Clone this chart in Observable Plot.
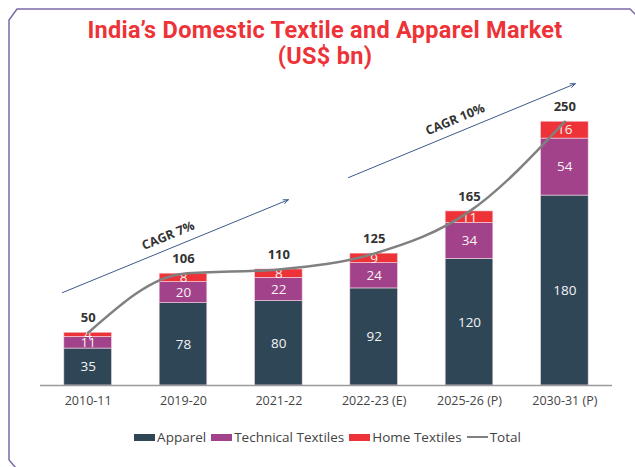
<!DOCTYPE html>
<html>
<head>
<meta charset="utf-8">
<script src="https://cdn.jsdelivr.net/npm/d3@7"></script>
<script src="https://cdn.jsdelivr.net/npm/@observablehq/plot@0.6"></script>
<style>
  html, body { margin: 0; padding: 0; background: #fff; }
  body { width: 635px; height: 467px; position: relative; overflow: hidden; font-family: "Open Sans", sans-serif; }
  #frame { position: absolute; left: 0; top: 0; }
  #title { position: absolute; left: 0; width: 650px; top: 17px; text-align: center; color: #ee3338;
           font-family: Roboto, sans-serif; font-weight: 700; font-size: 23.5px; letter-spacing: 0.3px; line-height: 26px; }
  #chart { position: absolute; left: 0; top: 66px; }
  #legend { position: absolute; left: 0; width: 655px; top: 428px; display: flex; justify-content: center;
            align-items: center; font-size: 13.5px; color: #444; gap: 5px; }
  .item { display: flex; align-items: center; }
  .sw { width: 21px; height: 7px; margin-right: 2px; }
  .ln { width: 21px; height: 2.5px; margin-right: 2px; background: #808080; }
</style>
</head>
<body>
<svg id="frame" width="635" height="467">
  <polyline points="9,460 9,20 17,9 630,9 641,20" fill="none" stroke="#7b6aa8" stroke-width="1.5"/>
  <polyline points="9,460 16,468" fill="none" stroke="#7b6aa8" stroke-width="1.5"/>
</svg>
<div id="title">India’s Domestic Textile and Apparel Market<br>(US$ bn)</div>
<div id="chart"></div>
<div id="legend"></div>
<script>
const categories = ["2010-11", "2019-20", "2021-22", "2022-23 (E)", "2025-26 (P)", "2030-31 (P)"];
const apparel = [35, 78, 80, 92, 120, 180];
const technical = [11, 20, 22, 24, 34, 54];
const home = [4, 8, 8, 9, 11, 16];
const totals = [50, 106, 110, 125, 165, 250];
const seriesNames = ["Apparel", "Technical Textiles", "Home Textiles"];
const seriesColors = ["#2f4657", "#a2428b", "#ee3338"];
const cagrLabels = ["CAGR 7%", "CAGR 10%"];
// annotation arrows in data space (x = category index, y = US$ bn)
const cagrStart = [[-0.27, 88], [2.73, 197]];
const cagrEnd = [[2.10, 176], [5.11, 286]];
const cagrLabelPos = [[0.84, 142], [3.85, 252]];

const long = categories.flatMap((c, i) =>
  [apparel, technical, home].map((arr, k) => ({i, series: seriesNames[k], value: arr[i]})));
const tot = totals.map((v, i) => ({i, total: v}));
const cagr = cagrLabels.map((label, k) => ({
  label,
  x1: cagrStart[k][0], y1: cagrStart[k][1],
  x2: cagrEnd[k][0], y2: cagrEnd[k][1],
  lx: cagrLabelPos[k][0], ly: cagrLabelPos[k][1]
}));

const chart = Plot.plot({
  width: 635,
  height: 350,
  marginLeft: 40,
  marginRight: 23,
  marginTop: 13,
  marginBottom: 31,
  style: {fontFamily: "Open Sans, sans-serif", fontSize: "12px", color: "#444", background: "transparent"},
  x: {type: "linear", domain: [-0.5, 5.5], axis: null},
  y: {domain: [0, 290], axis: null},
  color: {domain: seriesNames, range: seriesColors},
  marks: [
    Plot.rectY(long, {x1: d => d.i - 0.25, x2: d => d.i + 0.25, y: "value", fill: "series",
      stroke: "#f3d9e3", strokeWidth: 0.6}),
    Plot.ruleY([0], {stroke: "#9a9a9a", strokeWidth: 1.5}),
    Plot.axisX({ticks: d3.range(categories.length), tickFormat: i => categories[i], tickSize: 0,
      tickPadding: 11, fontSize: 12.5, fill: "#444"}),
    Plot.text(long, Plot.stackY({x: "i", y: "value", text: "value", fill: "#f4f4f4", fontSize: 13.5})),
    Plot.line(tot, {x: "i", y: "total", stroke: "#808080", strokeWidth: 2.5, curve: "monotone-x"}),
    Plot.text(tot, {x: "i", y: "total", text: "total", dy: -15, fontWeight: 700, fontSize: 13, fill: "#333"}),
    Plot.arrow(cagr, {x1: "x1", y1: "y1", x2: "x2", y2: "y2", stroke: "#3d5a8a", strokeWidth: 1,
      headLength: 8, headAngle: 45}),
    Plot.text(cagr, {x: "lx", y: "ly", text: "label", rotate: -22.5, fontWeight: 700, fontSize: 12.5, fill: "#333"})
  ]
});
document.getElementById("chart").appendChild(chart);

const legend = document.getElementById("legend");
seriesNames.forEach((s, k) => {
  const it = document.createElement("div"); it.className = "item";
  const sw = document.createElement("div"); sw.className = "sw"; sw.style.background = seriesColors[k];
  it.appendChild(sw); it.appendChild(document.createTextNode(s)); legend.appendChild(it);
});
{
  const it = document.createElement("div"); it.className = "item";
  const ln = document.createElement("div"); ln.className = "ln";
  it.appendChild(ln); it.appendChild(document.createTextNode("Total")); legend.appendChild(it);
}
</script>
</body>
</html>
